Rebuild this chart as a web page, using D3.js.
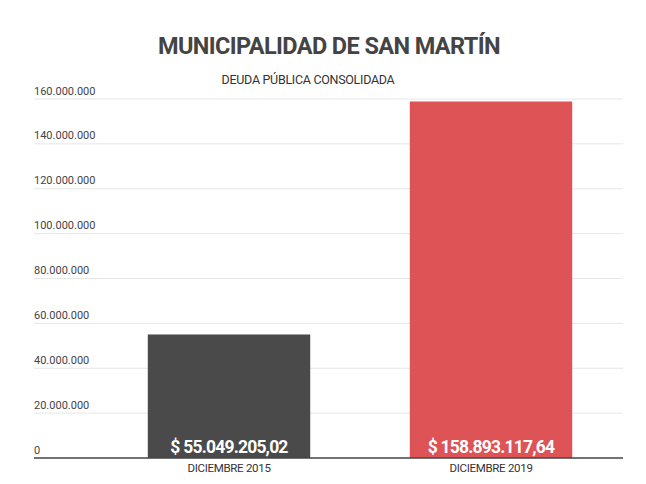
<!DOCTYPE html>
<html>
<head>
<meta charset="utf-8">
<script src="https://cdn.jsdelivr.net/npm/d3@7"></script>
<style>
  body { margin: 0; background: #fff; }
  text { font-family: Roboto, "Liberation Sans", sans-serif; }
</style>
</head>
<body>
<div id="chart"></div>
<script>
const categories = ['DICIEMBRE 2015', 'DICIEMBRE 2019'];
const values = [55049205.02, 158893117.64];
const valueLabels = ['$ 55.049.205,02', '$ 158.893.117,64'];
const colors = ['#4a4a4a', '#dd5356'];
const yTicks = [0, 20000000, 40000000, 60000000, 80000000, 100000000, 120000000, 140000000, 160000000];

const width = 646;
const height = 484;
const margin = { top: 99, bottom: 26, left: 34, right: 23 };

const svg = d3.select('#chart')
  .append('svg')
  .attr('width', width)
  .attr('height', height);

const x = d3.scaleBand()
  .domain(categories)
  .range([98, width - 24])
  .paddingInner(0.38)
  .paddingOuter(0.19);

const y = d3.scaleLinear()
  .domain([0, 160000000])
  .range([height - margin.bottom, margin.top]);

const fmt = d => d3.format(',')(d).replace(/,/g, '.');

// title
svg.append('text')
  .attr('x', 329).attr('y', 53.5)
  .attr('text-anchor', 'middle')
  .attr('font-size', 23.5).attr('font-weight', 'bold')
  .attr('fill', '#444')
  .attr('letter-spacing', -0.6)
  .text('MUNICIPALIDAD DE SAN MARTÍN');

svg.append('text')
  .attr('x', 308).attr('y', 84)
  .attr('text-anchor', 'middle')
  .attr('font-size', 12.5)
  .attr('fill', '#333')
  .attr('letter-spacing', -0.3)
  .text('DEUDA PÚBLICA CONSOLIDADA');

// grid + y labels
const grid = svg.append('g');
grid.selectAll('line')
  .data(yTicks.slice(1))
  .join('line')
    .attr('x1', margin.left).attr('x2', width - margin.right)
    .attr('y1', d => y(d)).attr('y2', d => y(d))
    .attr('stroke', '#e6e6e6');

grid.selectAll('text')
  .data(yTicks)
  .join('text')
    .attr('x', margin.left)
    .attr('y', d => y(d) - 4.5)
    .attr('font-size', 11)
    .attr('fill', '#444')
    .text(fmt);

// bars
svg.append('g')
  .selectAll('rect')
  .data(values)
  .join('rect')
    .attr('x', (d, i) => x(categories[i]))
    .attr('y', d => y(d))
    .attr('width', x.bandwidth())
    .attr('height', d => y(0) - y(d))
    .attr('fill', (d, i) => colors[i]);

// value labels
svg.append('g')
  .selectAll('text')
  .data(valueLabels)
  .join('text')
    .attr('x', (d, i) => x(categories[i]) + x.bandwidth() / 2)
    .attr('y', y(0) - 5.5)
    .attr('text-anchor', 'middle')
    .attr('font-size', 17.5).attr('font-weight', 'bold')
    .attr('fill', '#fff')
    .attr('letter-spacing', -0.8)
    .text(d => d);

// x axis
const xAxis = svg.append('g')
  .attr('transform', `translate(0,${y(0)})`);
xAxis.append('line')
  .attr('x1', margin.left).attr('x2', width - margin.right)
  .attr('stroke', '#444').attr('stroke-width', 1.5);
xAxis.selectAll('text')
  .data(categories)
  .join('text')
    .attr('x', d => x(d) + x.bandwidth() / 2)
    .attr('y', 13.5)
    .attr('text-anchor', 'middle')
    .attr('font-size', 11.5)
    .attr('fill', '#333')
    .attr('letter-spacing', -0.3)
    .text(d => d);
</script>
</body>
</html>
